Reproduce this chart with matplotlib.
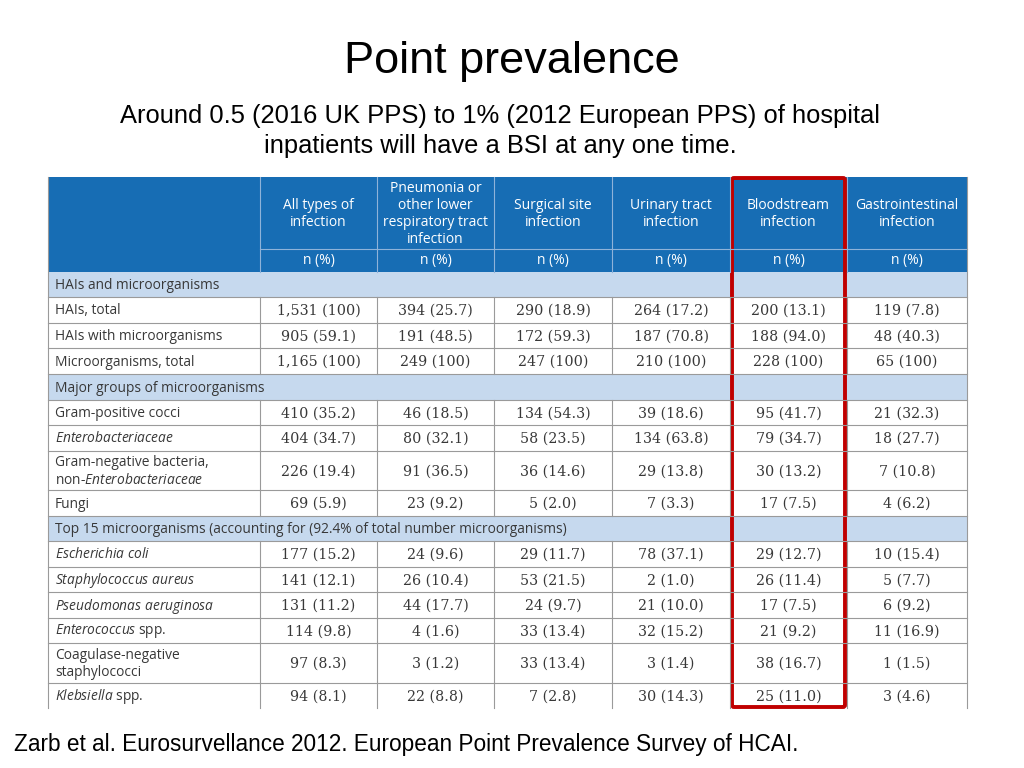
import matplotlib.pyplot as plt
from matplotlib.patches import Rectangle, FancyBboxPatch

plt.rcParams['mathtext.fontset'] = 'custom'
plt.rcParams['mathtext.rm'] = 'Open Sans'
plt.rcParams['mathtext.it'] = 'Open Sans:italic'

TITLE = 'Point prevalence'
SUBTITLE = ('Around 0.5 (2016 UK PPS) to 1% (2012 European PPS) of hospital\n'
            'inpatients will have a BSI at any one time.')
FOOTER = 'Zarb et al. Eurosurvellance 2012. European Point Prevalence Survey of HCAI.'

columns = ['All types of\ninfection',
           'Pneumonia or\nother lower\nrespiratory tract\ninfection',
           'Surgical site\ninfection',
           'Urinary tract\ninfection',
           'Bloodstream\ninfection',
           'Gastrointestinal\ninfection']

# rows: (label, counts, percents); None counts -> section header row
row_labels = [
    'HAIs and microorganisms',
    'HAIs, total',
    'HAIs with microorganisms',
    'Microorganisms, total',
    'Major groups of microorganisms',
    'Gram-positive cocci',
    r'$\mathit{Enterobacteriaceae}$',
    'Gram-negative bacteria,\nnon-$\\mathit{Enterobacteriaceae}$',
    'Fungi',
    'Top 15 microorganisms (accounting for (92.4% of total number microorganisms)',
    r'$\mathit{Escherichia\ coli}$',
    r'$\mathit{Staphylococcus\ aureus}$',
    r'$\mathit{Pseudomonas\ aeruginosa}$',
    r'$\mathit{Enterococcus}$ spp.',
    'Coagulase-negative\nstaphylococci',
    r'$\mathit{Klebsiella}$ spp.',
]

counts = [
    None,
    [1531, 394, 290, 264, 200, 119],
    [905, 191, 172, 187, 188, 48],
    [1165, 249, 247, 210, 228, 65],
    None,
    [410, 46, 134, 39, 95, 21],
    [404, 80, 58, 134, 79, 18],
    [226, 91, 36, 29, 30, 7],
    [69, 23, 5, 7, 17, 4],
    None,
    [177, 24, 29, 78, 29, 10],
    [141, 26, 53, 2, 26, 5],
    [131, 44, 24, 21, 17, 6],
    [114, 4, 33, 32, 21, 11],
    [97, 3, 33, 3, 38, 1],
    [94, 22, 7, 30, 25, 3],
]

percents = [
    None,
    [100, 25.7, 18.9, 17.2, 13.1, 7.8],
    [59.1, 48.5, 59.3, 70.8, 94.0, 40.3],
    [100, 100, 100, 100, 100, 100],
    None,
    [35.2, 18.5, 54.3, 18.6, 41.7, 32.3],
    [34.7, 32.1, 23.5, 63.8, 34.7, 27.7],
    [19.4, 36.5, 14.6, 13.8, 13.2, 10.8],
    [5.9, 9.2, 2.0, 3.3, 7.5, 6.2],
    None,
    [15.2, 9.6, 11.7, 37.1, 12.7, 15.4],
    [12.1, 10.4, 21.5, 1.0, 11.4, 7.7],
    [11.2, 17.7, 9.7, 10.0, 7.5, 9.2],
    [9.8, 1.6, 13.4, 15.2, 9.2, 16.9],
    [8.3, 1.2, 13.4, 1.4, 16.7, 1.5],
    [8.1, 8.8, 2.8, 14.3, 11.0, 4.6],
]

highlight_col = 4

# layout in pixels
col_edges = [48, 260, 377, 494, 612, 730, 847, 967]
row_edges = [272, 297, 323, 348, 374, 400, 425, 451, 490, 516, 541, 567,
             592, 618, 643, 683, 708]
header_top, header_mid = 177, 249

HEADER_BLUE = '#176db4'
SECTION_BLUE = '#c6d9ee'
GRID = '#9a9a9a'
TEXT = '#383838'
FONT = 'Open Sans'


def fmt(n, p):
    ps = '100' if p == 100 else f'{p:.1f}'
    return f'{n:,} ({ps})'


fig = plt.figure(figsize=(10.24, 7.68), dpi=100)
ax = fig.add_axes([0, 0, 1, 1])
ax.set_xlim(0, 1024)
ax.set_ylim(768, 0)
ax.axis('off')

ax.text(512, 61, TITLE, ha='center', va='center', fontsize=32.5,
        family='Liberation Sans')
ax.text(500, 131, SUBTITLE, ha='center', va='center', fontsize=18.4,
        family='Liberation Sans', linespacing=1.35)
ax.text(14, 744, FOOTER, ha='left', va='center', fontsize=16.3,
        family='Liberation Sans')

x0, x1 = col_edges[0], col_edges[-1]

# header
ax.add_patch(Rectangle((x0, header_top), x1 - x0, row_edges[0] - header_top,
                       facecolor=HEADER_BLUE, edgecolor='none'))
ax.plot([col_edges[1], x1], [header_mid, header_mid], color='#8fb3d9', lw=0.8)
for xe in col_edges[1:-1]:
    ax.plot([xe, xe], [header_top, row_edges[0]], color='#8fb3d9', lw=0.8)
for j, name in enumerate(columns):
    xc = (col_edges[j + 1] + col_edges[j + 2]) / 2
    ax.text(xc, (header_top + header_mid) / 2 + 1, name, ha='center',
            va='center', color='white', fontsize=10, family=FONT,
            linespacing=1.2)
    ax.text(xc, (header_mid + row_edges[0]) / 2, 'n (%)', ha='center',
            va='center', color='white', fontsize=10, family=FONT)

# body
for i, label in enumerate(row_labels):
    top, bot = row_edges[i], row_edges[i + 1]
    yc = (top + bot) / 2
    if counts[i] is None:
        ax.add_patch(Rectangle((x0, top), x1 - x0, bot - top,
                               facecolor=SECTION_BLUE, edgecolor='none'))
        ax.text(55, yc + 1, label, ha='left', va='center', fontsize=9.9,
                family=FONT, color=TEXT)
    else:
        for xe in col_edges[1:-1]:
            ax.plot([xe, xe], [top, bot], color=GRID, lw=0.8)
        ax.text(55, yc + 1, label, ha='left', va='center', fontsize=9.9,
                family=FONT, color=TEXT, linespacing=1.2)
        for j, (n, p) in enumerate(zip(counts[i], percents[i])):
            xc = (col_edges[j + 1] + col_edges[j + 2]) / 2
            ax.text(xc, yc + 1, fmt(n, p), ha='center', va='center',
                    fontsize=10.3, family='DejaVu Serif', color=TEXT)
    if i > 0:
        ax.plot([x0, x1], [top, top], color=GRID, lw=0.8)

ax.plot([x0, x0], [header_top, row_edges[-1]], color=GRID, lw=0.8)
ax.plot([x1, x1], [header_top, row_edges[-1]], color=GRID, lw=0.8)

# highlight box
hx0, hx1 = col_edges[highlight_col + 1], col_edges[highlight_col + 2]
ax.add_patch(FancyBboxPatch((hx0 + 2, header_top + 1), hx1 - hx0 - 4,
                            row_edges[-1] - header_top - 2,
                            boxstyle='round,pad=0,rounding_size=2',
                            facecolor='none', edgecolor='#c00000', lw=2.8))

fig.savefig('out.png', dpi=100)
